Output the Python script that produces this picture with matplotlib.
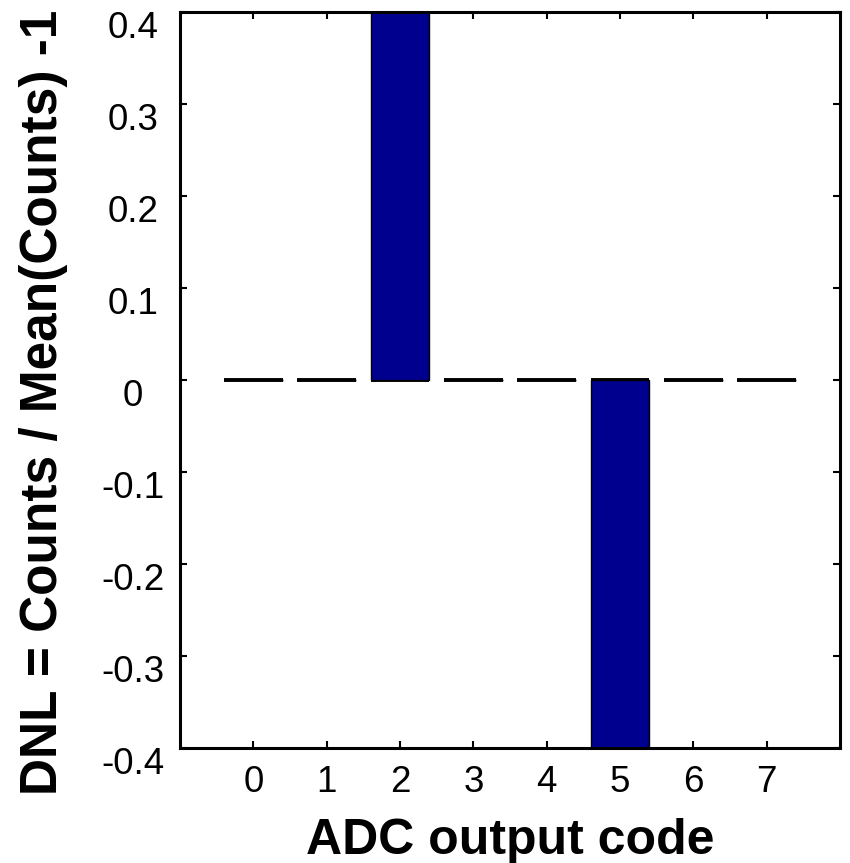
import numpy as np
import matplotlib
matplotlib.use('Agg')
import matplotlib.pyplot as plt
import matplotlib.transforms as mtransforms

# ADC histogram test - DNL per output code
codes = np.arange(8)
dnl = [0, 0, 0.4, 0, 0, -0.4, 0, 0]
yticks = [-0.4, -0.3, -0.2, -0.1, 0, 0.1, 0.2, 0.3, 0.4]
ytick_labels = ['-0.4', '-0.3', '-0.2', '-0.1', '0', '0.1', '0.2', '0.3', '0.4']

bar_width = 0.8
bar_color = '#00008F'

plt.rcParams['font.family'] = ['Liberation Sans', 'DejaVu Sans']

fig = plt.figure(figsize=(8.5, 8.63), dpi=100)
ax = fig.add_axes([0.2118, 0.1333, 0.7765, 0.8528])

# baseline drawn as segments under each bar (looks dashed)
ax.hlines(np.zeros(len(codes)), codes - bar_width/2, codes + bar_width/2,
          color='black', linewidth=2.8, zorder=1)
ax.bar(codes, dnl, width=bar_width, color=bar_color, edgecolor='black',
       linewidth=1.0, zorder=2)

ax.set_xlim(-1, 8)
ax.set_ylim(-0.4, 0.4)

ax.tick_params(direction='in', length=5, width=1.5, top=True, right=True,
               labelsize=26.5)
ax.tick_params(axis='x', pad=12)
ax.tick_params(axis='y', pad=34)
for s in ax.spines.values():
    s.set_linewidth(2.2)

ax.set_xticks(codes)
ax.set_yticks(yticks)
# y labels are centred in a column and sit a little below their ticks
ax.set_yticklabels(ytick_labels, ha='center')
shift = mtransforms.ScaledTranslation(0, -0.13, fig.dpi_scale_trans)
for lbl in ax.get_yticklabels():
    lbl.set_transform(lbl.get_transform() + shift)

ax.set_xlabel('ADC output code', fontsize=36, fontweight='bold', labelpad=13)
ax.set_ylabel('DNL = Counts / Mean(Counts) -1', fontsize=37, fontweight='bold')
ax.yaxis.set_label_coords(-0.17, 0.47)

plt.savefig('out.png', dpi=100)
